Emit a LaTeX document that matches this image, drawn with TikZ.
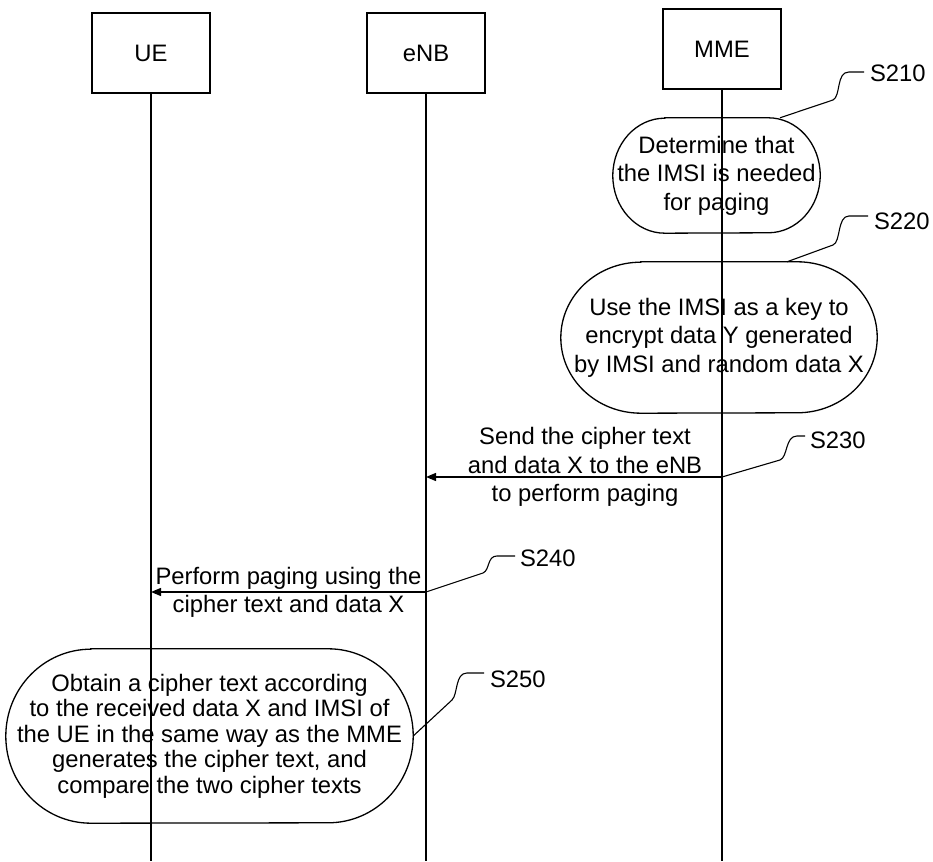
\documentclass[tikz,border=0pt]{standalone}
\usepackage{fontspec}
\setmainfont{Liberation Sans}
\usetikzlibrary{arrows.meta,calc}

% outline of a step: flat top and bottom with elliptic ends
% #1 node, #2 end radius (x), #3 half height
\newcommand\pillshape[3]{%
  \draw[line] ($(#1.north west)+(#2,0)$) -- ($(#1.north east)+(-#2,0)$)
    arc[start angle=90,end angle=-90,x radius=#2,y radius=#3]
    -- ($(#1.south west)+(#2,0)$)
    arc[start angle=270,end angle=90,x radius=#2,y radius=#3] -- cycle;}

\begin{document}
\begin{tikzpicture}[x=1pt,y=1pt,
  every node/.style={font=\fontsize{23.8}{28.5}\selectfont},
  line/.style={line width=1.3pt},
  entity/.style={draw,line width=1.3pt,minimum width=118pt,minimum height=80pt,inner sep=0pt},
  steptext/.style={align=center,inner sep=0pt},
  msg/.style={line width=1.3pt,-{Triangle[length=10pt,width=8pt]}},
  msgtext/.style={align=center,inner sep=0pt},
  tag/.style={anchor=west,inner sep=0pt,outer sep=0pt},
  leader/.style={line width=1.1pt}]

\useasboundingbox (0,0) rectangle (933,861);

% entities and lifelines
\node[entity] (ue)  at (151,808) {UE};
\node[entity] (enb) at (426,808) {eNB};
\node[entity] (mme) at (722,812) {MME};
\coordinate (bottom) at (0,0);
\draw[line] (ue.south)  -- (ue.south |- bottom);
\draw[line] (enb.south) -- (enb.south |- bottom);
\draw[line] (mme.south) -- (mme.south |- bottom);

% steps on the MME side
\node[steptext,minimum width=207pt,minimum height=115pt] (s210) at (716.5,685.5)
  {Determine that\\the IMSI is needed\\for paging};
\pillshape{s210}{52}{57.5}
\node[steptext,minimum width=316pt,minimum height=151pt] (s220) at (719,523.5)
  {Use the IMSI as a key to\\encrypt data Y generated\\by IMSI and random data X};
\pillshape{s220}{80}{75.5}

% messages
\coordinate (y230) at (0,384);
\draw[msg] (mme.south |- y230) coordinate (a230) -- (enb.south |- y230);
\node[msgtext] (t230) at (585,394)
  {Send the cipher text\\and data X to the eNB\\to perform paging};
\coordinate (y240) at (0,269);
\draw[msg] (enb.south |- y240) coordinate (a240) -- (ue.south |- y240);
\node[msgtext] (t240) at (288.5,268.5)
  {Perform paging using the\\cipher text and data X};

% step on the UE side
\node[steptext,minimum width=407pt,minimum height=174pt,
      font=\fontsize{23.8}{25.5}\selectfont] (s250) at (209.5,125)
  {Obtain a cipher text according\\to the received data X and IMSI of\\the UE in the same way as the MME\\generates the cipher text, and\\compare the two cipher texts};
\pillshape{s250}{85}{87}

% step labels with leaders
\node[tag] (l210) at (870,788) {S210};
\node[tag] (l220) at (874,640) {S220};
\node[tag] (l230) at (810,421) {S230};
\node[tag] (l240) at (520,303) {S240};
\node[tag] (l250) at (490,182) {S250};

\draw[leader] ($(s210.north)+(63.5,0)$) -- (833,761)
  .. controls (841,765) and (836,789) .. (849,789) -- ($(l210.west |- 0,789)+(-6,0)$);
\draw[leader] ($(s220.north)+(68,0)$) -- (833,616)
  .. controls (841,619) and (837,645) .. (849,645) -- ($(l220.west |- 0,645)+(-6,0)$);
\draw[leader] (a230) -- (780,401)
  .. controls (788,404) and (785,425) .. (797,425) -- ($(l230.west |- 0,425)+(-5,0)$);
\draw[leader] (a240) -- (483,288)
  .. controls (490,291) and (487,305) .. (497,305) -- ($(l240.west |- 0,305)+(-5,0)$);
\draw[leader] (s250.east) -- (452,161)
  .. controls (458,167) and (455,188) .. (467,188) -- ($(l250.west |- 0,188)+(-6,0)$);

\end{tikzpicture}
\end{document}
